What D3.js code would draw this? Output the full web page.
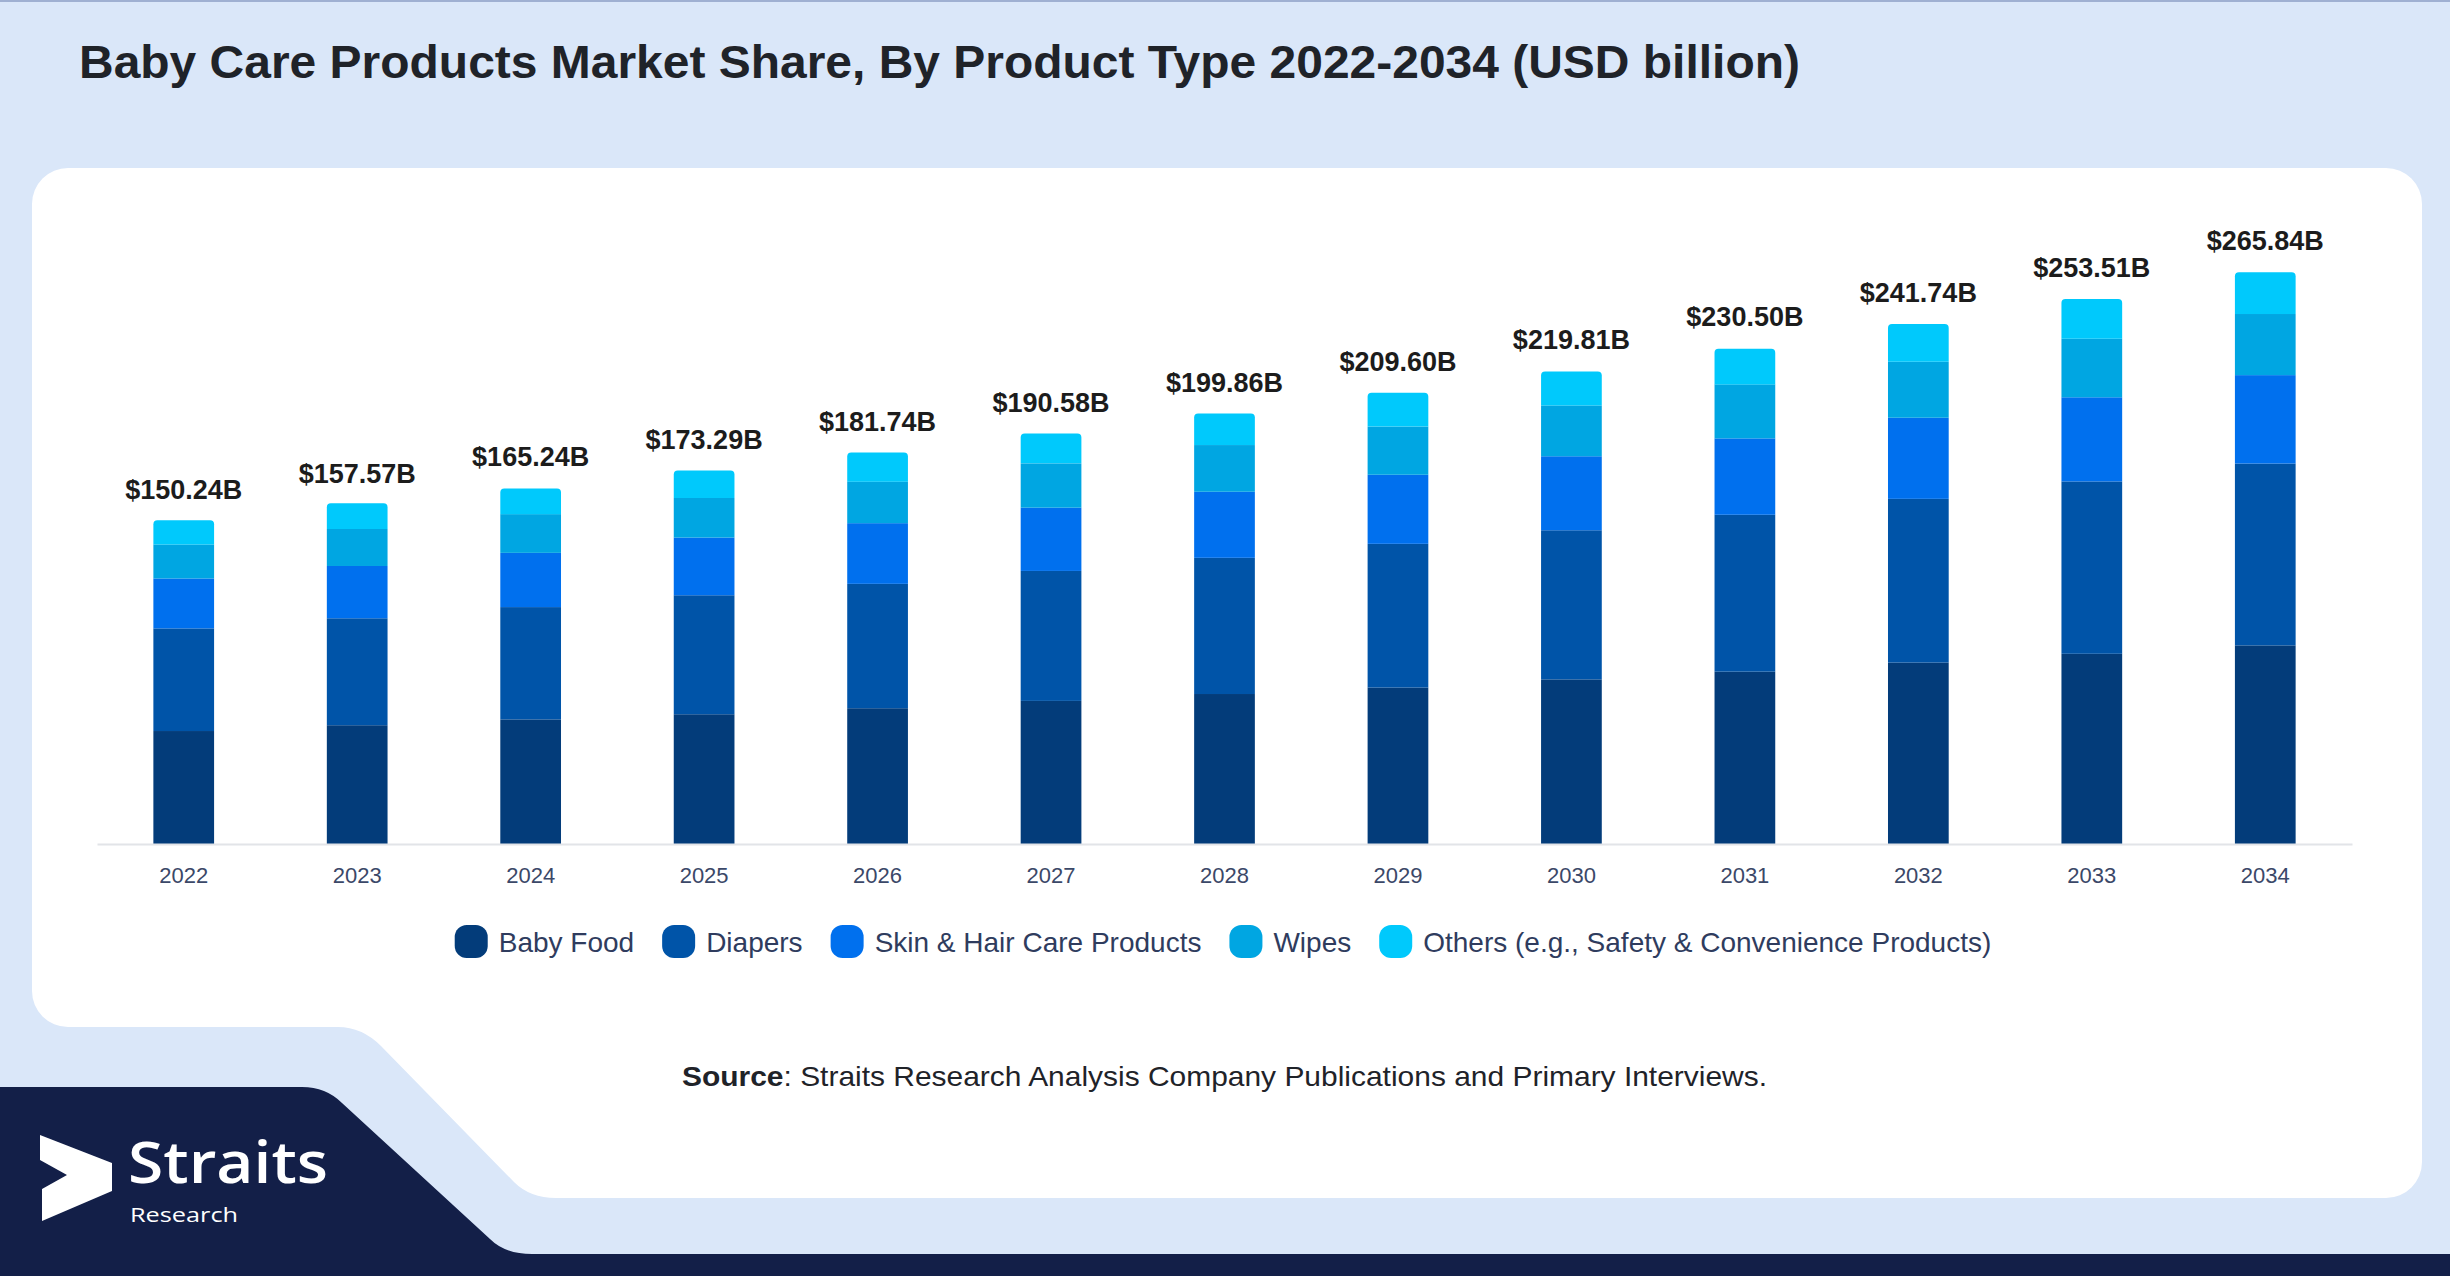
<!DOCTYPE html>
<html>
<head>
<meta charset="utf-8">
<script src="https://cdn.jsdelivr.net/npm/d3@7"></script>
<style>
  body { margin: 0; background: #dae7f9; }
  svg { display: block; }
</style>
</head>
<body>
<div id="chart"></div>
<script>
var width = 2450;
var height = 1276;

/* Data (USD billion) */
var years = ["2022", "2023", "2024", "2025", "2026", "2027", "2028", "2029", "2030", "2031", "2032", "2033", "2034"];
var seriesNames = ["Baby Food", "Diapers", "Skin & Hair Care Products", "Wipes", "Others (e.g., Safety & Convenience Products)"];
var babyFood = [52.5, 55.2, 57.9, 60.3, 63.1, 66.5, 69.7, 72.7, 76.5, 80.1, 84.3, 88.4, 92.3];
var diapers  = [47.7, 49.7, 52.2, 55.3, 57.8, 60.4, 63.3, 66.8, 69.3, 72.9, 76.1, 80.1, 84.5];
var skinHair = [23.2, 24.3, 25.2, 26.8, 28.2, 29.4, 30.7, 32.1, 34.4, 35.5, 37.7, 39.1, 41.1];
var wipes    = [15.8, 17.2, 18.0, 18.4, 19.3, 20.6, 21.7, 22.4, 23.6, 25.1, 26.0, 27.2, 28.4];
var others   = [11.3, 11.9, 11.9, 12.8, 13.5, 13.9, 14.7, 15.7, 15.8, 16.5, 17.6, 18.5, 19.4];
var totals   = [150.24, 157.57, 165.24, 173.29, 181.74, 190.58, 199.86, 209.60, 219.81, 230.50, 241.74, 253.51, 265.84];

var colors = ["#033c7a", "#0054a8", "#0070ee", "#00a6e2", "#00c9fc"];
var keys = ["food", "diapers", "skin", "wipes", "others"];

var table = years.map(function(y, i) {
  return { year: y, food: babyFood[i], diapers: diapers[i], skin: skinHair[i], wipes: wipes[i], others: others[i] };
});

var svg = d3.select("#chart").append("svg")
  .attr("width", width)
  .attr("height", height);

/* Background + frame */
svg.append("rect").attr("width", width).attr("height", height).attr("fill", "#dae7f9");
svg.append("rect").attr("width", width).attr("height", 2).attr("fill", "#9fb0d2");

// white card with notch at bottom left
svg.append("path")
  .attr("fill", "#ffffff")
  .attr("d", "M68,168 H2386 A36,36 0 0 1 2422,204 V1162 A36,36 0 0 1 2386,1198 " +
             "H556 Q530,1198 514,1182 L381,1046 Q362,1027 338,1027 H68 A36,36 0 0 1 32,991 V204 A36,36 0 0 1 68,168 Z");

// navy footer
svg.append("path")
  .attr("fill", "#131f48")
  .attr("d", "M0,1087 H302 Q326,1087 342,1103 L490,1239 Q505,1254 532,1254 H2450 V1276 H0 Z");

/* Title */
svg.append("text")
  .attr("x", 79)
  .attr("y", 78)
  .attr("font-family", "'Liberation Sans', Arial, sans-serif")
  .attr("font-size", 47)
  .attr("font-weight", "bold")
  .attr("fill", "#1f2329")
  .attr("textLength", 1721)
  .attr("lengthAdjust", "spacingAndGlyphs")
  .text("Baby Care Products Market Share, By Product Type 2022-2034 (USD billion)");

/* Scales */
var xScale = d3.scaleBand()
  .domain(years)
  .range([97, 2352])
  .paddingInner(0.65)
  .paddingOuter(0.325);

var yScale = d3.scaleLinear()
  .domain([0, 280])
  .range([844, 241.5]);

var stack = d3.stack().keys(keys);
var stacked = stack(table);

function topRounded(x, y, w, h, r) {
  return "M" + x + "," + (y + h) + "V" + (y + r) +
    "Q" + x + "," + y + " " + (x + r) + "," + y +
    "H" + (x + w - r) +
    "Q" + (x + w) + "," + y + " " + (x + w) + "," + (y + r) +
    "V" + (y + h) + "Z";
}

var bars = svg.append("g").attr("class", "bars");

bars.selectAll(".layer")
  .data(stacked)
  .enter()
  .append("g")
  .attr("class", "layer")
  .attr("fill", function(d, i) { return colors[i]; })
  .each(function(layer, li) {
    var g = d3.select(this);
    if (li === keys.length - 1) {
      g.selectAll("path")
        .data(layer)
        .enter()
        .append("path")
        .attr("d", function(d) {
          var y0 = yScale(d[1]);
          return topRounded(xScale(d.data.year), y0, xScale.bandwidth(), yScale(d[0]) - y0, 4);
        });
    } else {
      g.selectAll("rect")
        .data(layer)
        .enter()
        .append("rect")
        .attr("x", function(d) { return xScale(d.data.year); })
        .attr("y", function(d) { return yScale(d[1]); })
        .attr("width", xScale.bandwidth())
        .attr("height", function(d) { return yScale(d[0]) - yScale(d[1]); });
    }
  });

/* Total labels */
svg.append("g")
  .selectAll("text")
  .data(years)
  .enter()
  .append("text")
  .attr("x", function(d) { return xScale(d) + xScale.bandwidth() / 2; })
  .attr("y", function(d, i) { return yScale(totals[i]) - 22; })
  .attr("text-anchor", "middle")
  .attr("font-family", "'Liberation Sans', Arial, sans-serif")
  .attr("font-size", 27)
  .attr("font-weight", "bold")
  .attr("fill", "#1c1c1c")
  .text(function(d, i) { return "$" + totals[i].toFixed(2) + "B"; });

/* X axis */
var xAxis = d3.axisBottom(xScale).tickSize(0).tickSizeOuter(0).tickPadding(23);
var axisG = svg.append("g")
  .attr("class", "x axis")
  .attr("transform", "translate(0, 844)")
  .call(xAxis);
axisG.select(".domain").attr("stroke", "#e2e4e8").attr("stroke-width", 2);
axisG.selectAll("text")
  .attr("font-family", "'Liberation Sans', Arial, sans-serif")
  .attr("font-size", 22)
  .attr("fill", "#3b4868");

/* Legend */
var legend = svg.append("g").attr("class", "legend");
var cursor = 0;
var itemGap = 28;
seriesNames.forEach(function(name, i) {
  var item = legend.append("g").attr("transform", "translate(" + cursor + ",0)");
  item.append("rect")
    .attr("x", 0).attr("y", -17)
    .attr("width", 33).attr("height", 33)
    .attr("rx", 12)
    .attr("fill", colors[i]);
  var t = item.append("text")
    .attr("x", 44).attr("y", 10)
    .attr("font-family", "'Liberation Sans', Arial, sans-serif")
    .attr("font-size", 28)
    .attr("fill", "#2f3c5e")
    .text(name);
  cursor += 44 + t.node().getComputedTextLength() + itemGap;
});
var legendWidth = cursor - itemGap;
legend.attr("transform", "translate(" + (1223 - legendWidth / 2) + ",942)");

/* Source */
var src = svg.append("text")
  .attr("x", 682)
  .attr("y", 1086)
  .attr("font-family", "'Liberation Sans', Arial, sans-serif")
  .attr("font-size", 28)
  .attr("fill", "#1f2329")
  .attr("textLength", 1085)
  .attr("lengthAdjust", "spacingAndGlyphs");
src.append("tspan").attr("font-weight", "bold").text("Source");
src.append("tspan").text(": Straits Research Analysis Company Publications and Primary Interviews.");

/* Logo */
var logo = svg.append("g").attr("class", "logo");
logo.append("path")
  .attr("fill", "#ffffff")
  .attr("d", "M40,1135 L112,1163 L112,1191 L42,1221 L42,1189 L67,1175 L40,1160 Z");
logo.append("text")
  .attr("x", 128).attr("y", 1183)
  .attr("font-family", "'Open Sans', sans-serif")
  .attr("font-size", 58)
  .attr("font-weight", 600)
  .attr("fill", "#ffffff")
  .attr("textLength", 200)
  .attr("lengthAdjust", "spacingAndGlyphs")
  .text("Straits");
logo.append("text")
  .attr("x", 130).attr("y", 1222)
  .attr("font-family", "'Open Sans', sans-serif")
  .attr("font-size", 20)
  .attr("fill", "#ffffff")
  .attr("textLength", 108)
  .attr("lengthAdjust", "spacingAndGlyphs")
  .text("Research");
</script>
</body>
</html>
